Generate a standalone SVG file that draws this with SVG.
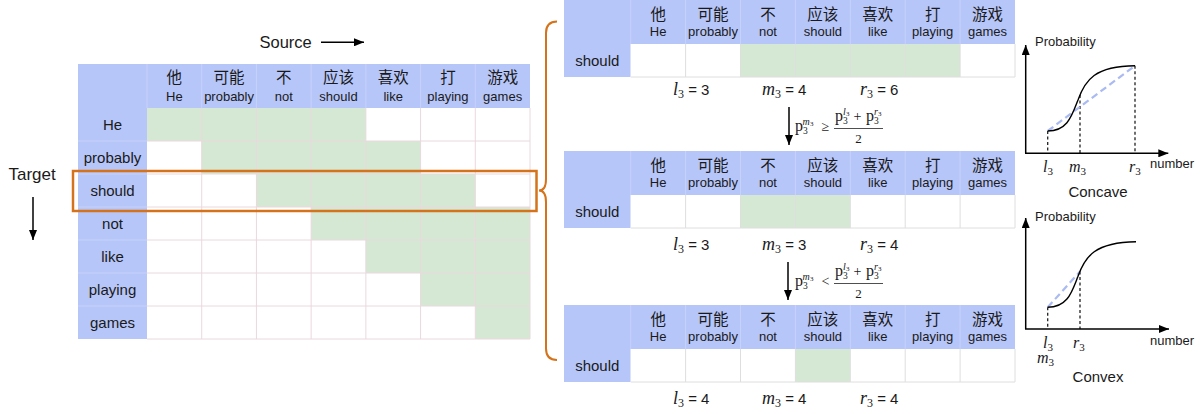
<svg xmlns="http://www.w3.org/2000/svg" width="1203" height="414" viewBox="0 0 1203 414">
<style>
.en{font-family:"Liberation Sans",Arial,sans-serif;fill:#1a1a1a}
.zh{font-family:"Noto Sans CJK SC","Liberation Sans",sans-serif;font-size:15.5px;fill:#1a1a1a}
.hd{font-size:13px}
.rl{font-size:15px}
.mi{font-family:"Liberation Serif",serif;font-style:italic;fill:#1a1a1a}
.mr{font-family:"Liberation Serif",serif;fill:#1a1a1a}
.blue{fill:#b7c6f9}
.green{fill:#d5e8d4}
.gridL{stroke:#ead8de;stroke-width:1;fill:none}
.gridR{stroke:#dedede;stroke-width:1;fill:none}
.hsep{stroke:#c6d2fb;stroke-width:1;fill:none}
.orange{stroke:#d4731c;stroke-width:2.5;fill:none}
.arr{stroke:#000;stroke-width:1.5;fill:none}
.dot{stroke:#222;stroke-width:1.3;stroke-dasharray:3 2.5;fill:none}
.bdash{stroke:#aabaf2;stroke-width:2.2;stroke-dasharray:7 4;fill:none}
</style>
<defs>
<marker id="ah" markerUnits="userSpaceOnUse" markerWidth="10" markerHeight="8" refX="10" refY="4" orient="auto">
<path d="M0,0 L10,4 L0,8 z" fill="#000"/>
</marker>
</defs>
<rect width="1203" height="414" fill="#fff"/>

<!-- Left table -->
<g id="leftTable">
<rect class="blue" x="78" y="64" width="452" height="44"/>
<rect class="blue" x="78" y="108" width="69" height="231"/>
<rect fill="#fff" x="147" y="108" width="383" height="231"/>
<rect class="green" x="147" y="108" width="218.86" height="33"/>
<rect class="green" x="201.71" y="141" width="218.86" height="33"/>
<rect class="green" x="256.43" y="174" width="218.86" height="33"/>
<rect class="green" x="311.14" y="207" width="218.86" height="33"/>
<rect class="green" x="365.86" y="240" width="164.14" height="33"/>
<rect class="green" x="420.57" y="273" width="109.43" height="33"/>
<rect class="green" x="475.29" y="306" width="54.71" height="33"/>
<path class="gridL" d="M201.71,108V339M256.43,108V339M311.14,108V339M365.86,108V339M420.57,108V339M475.29,108V339M530,108V339M147,141H530M147,174H530M147,207H530M147,240H530M147,273H530M147,306H530M147,339H530"/>
<path class="hsep" d="M147,64V108M201.71,64V108M256.43,64V108M311.14,64V108M365.86,64V108M420.57,64V108M475.29,64V108M78,141H147M78,174H147M78,207H147M78,240H147M78,273H147M78,306H147"/>
<g text-anchor="middle">
<text class="zh" x="174.36" y="83">他</text>
<text class="zh" x="229.07" y="83">可能</text>
<text class="zh" x="283.79" y="83">不</text>
<text class="zh" x="338.5" y="83">应该</text>
<text class="zh" x="393.21" y="83">喜欢</text>
<text class="zh" x="447.93" y="83">打</text>
<text class="zh" x="502.64" y="83">游戏</text>
<text class="en hd" x="174.36" y="100.5">He</text>
<text class="en hd" x="229.07" y="100.5">probably</text>
<text class="en hd" x="283.79" y="100.5">not</text>
<text class="en hd" x="338.5" y="100.5">should</text>
<text class="en hd" x="393.21" y="100.5">like</text>
<text class="en hd" x="447.93" y="100.5">playing</text>
<text class="en hd" x="502.64" y="100.5">games</text>
<text class="en rl" x="112.5" y="130">He</text>
<text class="en rl" x="112.5" y="163">probably</text>
<text class="en rl" x="112.5" y="196">should</text>
<text class="en rl" x="112.5" y="229">not</text>
<text class="en rl" x="112.5" y="262">like</text>
<text class="en rl" x="112.5" y="295">playing</text>
<text class="en rl" x="112.5" y="328">games</text>
</g>
</g>
<g id="highlight">
<rect class="orange" x="73" y="171" width="463.5" height="40"/>
</g>
<g id="axisLabels">
<text class="en" x="259.5" y="48" font-size="16.5">Source</text>
<text class="en" x="8.5" y="180" font-size="17">Target</text>
</g>

<!-- Top right table -->
<g id="tableTop">
<rect class="blue" x="564" y="0" width="451" height="44"/>
<rect class="blue" x="564" y="44" width="66.7" height="33"/>
<rect fill="#fff" x="630.7" y="44" width="384.3" height="33"/>
<rect class="green" x="740.5" y="44" width="219.6" height="33"/>
<path class="gridR" d="M685.6,44V77M740.5,44V77M795.4,44V77M850.3,44V77M905.2,44V77M960.1,44V77M1015,44V77M630.7,77H1015"/>
<path class="hsep" d="M630.7,0V44M685.6,0V44M740.5,0V44M795.4,0V44M850.3,0V44M905.2,0V44M960.1,0V44"/>
<g text-anchor="middle">
<text class="zh" x="658.15" y="20">他</text>
<text class="zh" x="713.05" y="20">可能</text>
<text class="zh" x="767.95" y="20">不</text>
<text class="zh" x="822.85" y="20">应该</text>
<text class="zh" x="877.75" y="20">喜欢</text>
<text class="zh" x="932.65" y="20">打</text>
<text class="zh" x="987.55" y="20">游戏</text>
<text class="en hd" x="658.15" y="35.5">He</text>
<text class="en hd" x="713.05" y="35.5">probably</text>
<text class="en hd" x="767.95" y="35.5">not</text>
<text class="en hd" x="822.85" y="35.5">should</text>
<text class="en hd" x="877.75" y="35.5">like</text>
<text class="en hd" x="932.65" y="35.5">playing</text>
<text class="en hd" x="987.55" y="35.5">games</text>
<text class="en rl" x="597.3" y="66">should</text>
</g>
<text x="673" y="95"><tspan class="mi" font-size="18">l</tspan><tspan class="mr" font-size="12" dy="3">3</tspan><tspan class="en" font-size="15" dy="-3"> = 3</tspan></text>
<text x="762" y="95"><tspan class="mi" font-size="18">m</tspan><tspan class="mr" font-size="12" dy="3">3</tspan><tspan class="en" font-size="15" dy="-3"> = 4</tspan></text>
<text x="860" y="95"><tspan class="mi" font-size="18">r</tspan><tspan class="mr" font-size="12" dy="3">3</tspan><tspan class="en" font-size="15" dy="-3"> = 6</tspan></text>
</g>

<!-- Middle right table -->
<g id="tableMid">
<rect class="blue" x="564" y="151" width="451" height="44"/>
<rect class="blue" x="564" y="195" width="66.7" height="33"/>
<rect fill="#fff" x="630.7" y="195" width="384.3" height="33"/>
<rect class="green" x="740.5" y="195" width="109.8" height="33"/>
<path class="gridR" d="M685.6,195V228M740.5,195V228M795.4,195V228M850.3,195V228M905.2,195V228M960.1,195V228M1015,195V228M630.7,228H1015"/>
<path class="hsep" d="M630.7,151V195M685.6,151V195M740.5,151V195M795.4,151V195M850.3,151V195M905.2,151V195M960.1,151V195"/>
<g text-anchor="middle">
<text class="zh" x="658.15" y="171">他</text>
<text class="zh" x="713.05" y="171">可能</text>
<text class="zh" x="767.95" y="171">不</text>
<text class="zh" x="822.85" y="171">应该</text>
<text class="zh" x="877.75" y="171">喜欢</text>
<text class="zh" x="932.65" y="171">打</text>
<text class="zh" x="987.55" y="171">游戏</text>
<text class="en hd" x="658.15" y="186.5">He</text>
<text class="en hd" x="713.05" y="186.5">probably</text>
<text class="en hd" x="767.95" y="186.5">not</text>
<text class="en hd" x="822.85" y="186.5">should</text>
<text class="en hd" x="877.75" y="186.5">like</text>
<text class="en hd" x="932.65" y="186.5">playing</text>
<text class="en hd" x="987.55" y="186.5">games</text>
<text class="en rl" x="597.3" y="217">should</text>
</g>
<text x="673" y="250"><tspan class="mi" font-size="18">l</tspan><tspan class="mr" font-size="12" dy="3">3</tspan><tspan class="en" font-size="15" dy="-3"> = 3</tspan></text>
<text x="762" y="250"><tspan class="mi" font-size="18">m</tspan><tspan class="mr" font-size="12" dy="3">3</tspan><tspan class="en" font-size="15" dy="-3"> = 3</tspan></text>
<text x="860" y="250"><tspan class="mi" font-size="18">r</tspan><tspan class="mr" font-size="12" dy="3">3</tspan><tspan class="en" font-size="15" dy="-3"> = 4</tspan></text>
</g>

<!-- Bottom right table -->
<g id="tableBot">
<rect class="blue" x="564" y="305" width="451" height="44"/>
<rect class="blue" x="564" y="349" width="66.7" height="33"/>
<rect fill="#fff" x="630.7" y="349" width="384.3" height="33"/>
<rect class="green" x="795.4" y="349" width="54.9" height="33"/>
<path class="gridR" d="M685.6,349V382M740.5,349V382M795.4,349V382M850.3,349V382M905.2,349V382M960.1,349V382M1015,349V382M630.7,382H1015"/>
<path class="hsep" d="M630.7,305V349M685.6,305V349M740.5,305V349M795.4,305V349M850.3,305V349M905.2,305V349M960.1,305V349"/>
<g text-anchor="middle">
<text class="zh" x="658.15" y="325">他</text>
<text class="zh" x="713.05" y="325">可能</text>
<text class="zh" x="767.95" y="325">不</text>
<text class="zh" x="822.85" y="325">应该</text>
<text class="zh" x="877.75" y="325">喜欢</text>
<text class="zh" x="932.65" y="325">打</text>
<text class="zh" x="987.55" y="325">游戏</text>
<text class="en hd" x="658.15" y="340.5">He</text>
<text class="en hd" x="713.05" y="340.5">probably</text>
<text class="en hd" x="767.95" y="340.5">not</text>
<text class="en hd" x="822.85" y="340.5">should</text>
<text class="en hd" x="877.75" y="340.5">like</text>
<text class="en hd" x="932.65" y="340.5">playing</text>
<text class="en hd" x="987.55" y="340.5">games</text>
<text class="en rl" x="597.3" y="371">should</text>
</g>
<text x="673" y="404"><tspan class="mi" font-size="18">l</tspan><tspan class="mr" font-size="12" dy="3">3</tspan><tspan class="en" font-size="15" dy="-3"> = 4</tspan></text>
<text x="762" y="404"><tspan class="mi" font-size="18">m</tspan><tspan class="mr" font-size="12" dy="3">3</tspan><tspan class="en" font-size="15" dy="-3"> = 4</tspan></text>
<text x="860" y="404"><tspan class="mi" font-size="18">r</tspan><tspan class="mr" font-size="12" dy="3">3</tspan><tspan class="en" font-size="15" dy="-3"> = 4</tspan></text>
</g>

<!-- Formulas -->
<g id="formula1">
<text class="mr" x="795" y="130.5" font-size="16">p</text>
<text class="mr" x="803" y="133.5" font-size="9.5">3</text>
<text class="mi" x="802.5" y="124.5" font-size="10">m</text>
<text class="mr" x="810" y="126" font-size="7">3</text>
<text class="mr" x="821.5" y="130.5" font-size="14">≥</text>
<line x1="834" y1="128.5" x2="883" y2="128.5" stroke="#222" stroke-width="0.8"/>
<text class="mr" x="835" y="120.5" font-size="16">p</text>
<text class="mr" x="843" y="123.5" font-size="9.5">3</text>
<text class="mi" x="843" y="114.5" font-size="10">l</text>
<text class="mr" x="846" y="116" font-size="7">3</text>
<text class="mr" x="853.5" y="120.5" font-size="14">+</text>
<text class="mr" x="866" y="120.5" font-size="16">p</text>
<text class="mr" x="874" y="123.5" font-size="9.5">3</text>
<text class="mi" x="874" y="114.5" font-size="10">r</text>
<text class="mr" x="878" y="116" font-size="7">3</text>
<text class="mr" x="858.5" y="142.5" font-size="13" text-anchor="middle">2</text>
</g>
<g id="formula2">
<text class="mr" x="795" y="285.5" font-size="16">p</text>
<text class="mr" x="803" y="288.5" font-size="9.5">3</text>
<text class="mi" x="802.5" y="279.5" font-size="10">m</text>
<text class="mr" x="810" y="281" font-size="7">3</text>
<text class="mr" x="821.5" y="285.5" font-size="14">&lt;</text>
<line x1="834" y1="283.5" x2="883" y2="283.5" stroke="#222" stroke-width="0.8"/>
<text class="mr" x="835" y="275.5" font-size="16">p</text>
<text class="mr" x="843" y="278.5" font-size="9.5">3</text>
<text class="mi" x="843" y="269.5" font-size="10">l</text>
<text class="mr" x="846" y="271" font-size="7">3</text>
<text class="mr" x="853.5" y="275.5" font-size="14">+</text>
<text class="mr" x="866" y="275.5" font-size="16">p</text>
<text class="mr" x="874" y="278.5" font-size="9.5">3</text>
<text class="mi" x="874" y="269.5" font-size="10">r</text>
<text class="mr" x="878" y="271" font-size="7">3</text>
<text class="mr" x="858.5" y="297.5" font-size="13" text-anchor="middle">2</text>
</g>

<!-- Connectors -->
<g id="connectors">
<line class="arr" x1="321" y1="42.3" x2="364" y2="42.3" marker-end="url(#ah)"/>
<line class="arr" x1="33" y1="197" x2="33" y2="240" marker-end="url(#ah)"/>
<line class="arr" x1="789" y1="107" x2="789" y2="145" marker-end="url(#ah)"/>
<line class="arr" x1="788" y1="262" x2="788" y2="300" marker-end="url(#ah)"/>
<path d="M557,21.5 Q546,21.5 546,33 L546,179 Q546,190.5 539,190.5 Q546,190.5 546,202 L546,348.5 Q546,360 557,360" stroke="#d4731c" stroke-width="2" fill="none"/>
</g>

<!-- Graph 1: Concave -->
<g id="graphConcave">
<line class="dot" x1="1047.7" y1="131" x2="1047.7" y2="153.3"/>
<line class="dot" x1="1080" y1="95" x2="1080" y2="153.3"/>
<line class="dot" x1="1135" y1="65.7" x2="1135" y2="153.3"/>
<line class="bdash" x1="1047.7" y1="131" x2="1135" y2="65.7"/>
<path d="M1047.7,131 C1068,131 1072,115 1078,100 C1085,80 1095,66 1135,65.7" stroke="#000" stroke-width="1.4" fill="none"/>
<line class="arr" x1="1025.7" y1="153.3" x2="1025.7" y2="45" marker-end="url(#ah)"/>
<line class="arr" x1="1025" y1="153.3" x2="1168.3" y2="153.3" marker-end="url(#ah)"/>
<text class="en" x="1035" y="46" font-size="13">Probability</text>
<text class="en" x="1150" y="168" font-size="13">number</text>
<text x="1043" y="172"><tspan class="mi" font-size="16">l</tspan><tspan class="mr" font-size="11" dy="3">3</tspan></text>
<text x="1069" y="172"><tspan class="mi" font-size="16">m</tspan><tspan class="mr" font-size="11" dy="3">3</tspan></text>
<text x="1129" y="172"><tspan class="mi" font-size="16">r</tspan><tspan class="mr" font-size="11" dy="3">3</tspan></text>
<text class="en" x="1098" y="197" font-size="15" text-anchor="middle">Concave</text>
</g>

<!-- Graph 2: Convex -->
<g id="graphConvex">
<line class="dot" x1="1047.7" y1="307.3" x2="1047.7" y2="329"/>
<line class="dot" x1="1080" y1="271.5" x2="1080" y2="329"/>
<line class="bdash" x1="1047.7" y1="307.3" x2="1080" y2="271.5"/>
<path d="M1047.7,307.3 C1068,307.3 1072,291.3 1078,276.3 C1085,256.3 1095,242.3 1136,241.7" stroke="#000" stroke-width="1.4" fill="none"/>
<line class="arr" x1="1025.7" y1="329" x2="1025.7" y2="218" marker-end="url(#ah)"/>
<line class="arr" x1="1025" y1="329" x2="1169" y2="329" marker-end="url(#ah)"/>
<text class="en" x="1035" y="221" font-size="13">Probability</text>
<text class="en" x="1150" y="345" font-size="13">number</text>
<text x="1043" y="348"><tspan class="mi" font-size="16">l</tspan><tspan class="mr" font-size="11" dy="3">3</tspan></text>
<text x="1073" y="348"><tspan class="mi" font-size="16">r</tspan><tspan class="mr" font-size="11" dy="3">3</tspan></text>
<text x="1037" y="363"><tspan class="mi" font-size="16">m</tspan><tspan class="mr" font-size="11" dy="3">3</tspan></text>
<text class="en" x="1098" y="382" font-size="15" text-anchor="middle">Convex</text>
</g>
</svg>
